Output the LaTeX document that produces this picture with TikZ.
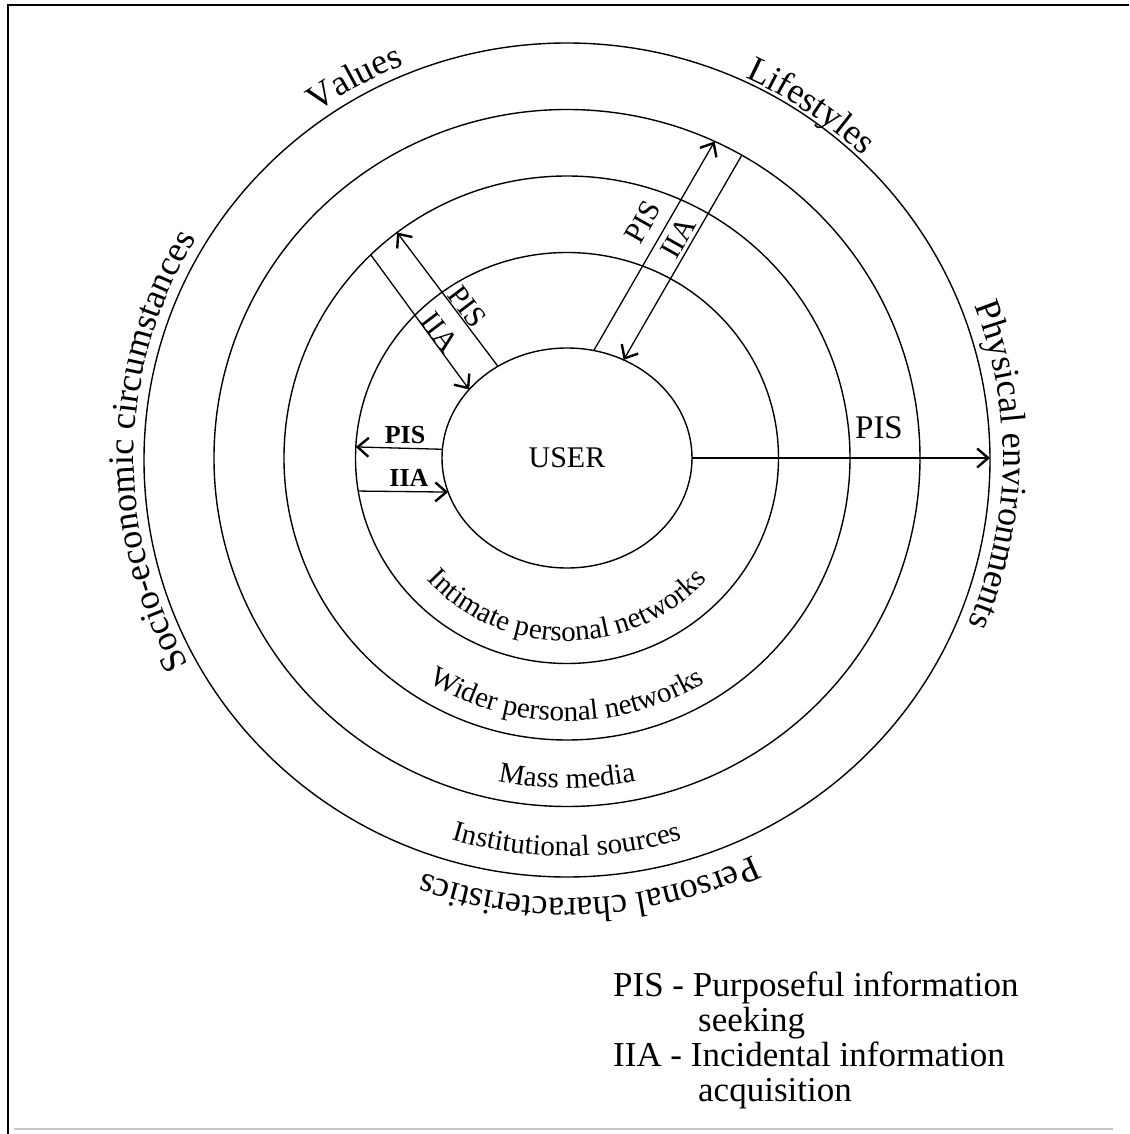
\documentclass[tikz,border=0pt]{standalone}
\usepackage{fontspec}
\setmainfont{Liberation Serif}
\usetikzlibrary{shapes.geometric,arrows.meta,decorations.text}
\newcommand\ringfont{\fontsize{29}{29}\selectfont}
\newcommand\outerfont{\fontsize{36}{36}\selectfont}
\begin{document}
\begin{tikzpicture}[x=1pt,y=1pt,
  ring/.style={draw, ellipse, line width=1.4pt, inner sep=0pt, outer sep=0pt},
  flow/.style={line width=1.3pt, -{Straight Barb[length=11pt,width=19pt,line width=2.4pt]}},
  lab/.style={font=\fontsize{30}{30}\selectfont, inner sep=0pt},
  smalllab/.style={font=\fontsize{26}{26}\selectfont\bfseries, inner sep=0pt},
  biglab/.style={font=\fontsize{33}{33}\selectfont, inner sep=0pt},
  legend/.style={font=\fontsize{35}{35}\selectfont, inner sep=0pt, anchor=base west},
  innertext/.style={decorate, decoration={text along path, text align=center, text={|\ringfont|#1}}},
  outertext/.style={decorate, decoration={text along path, text align=center, text={|\outerfont|#1}}}]
\useasboundingbox (-567,-676) rectangle (562,458);
\fill[white] (-567,-676) rectangle (562,458);
% frame
\draw[line width=2pt] (-559,-676) -- (-559,453) -- (562,453);
\draw[gray!45, line width=1.5pt] (-553,-671) -- (546,-671);
% rings
\node[ring, minimum width=846pt, minimum height=834pt] (r5) at (0,-2) {};
\node[ring, minimum width=706pt, minimum height=697pt] (r4) at (0,0) {};
\node[ring, minimum width=566pt, minimum height=564pt] (r3) at (0,0) {};
\node[ring, minimum width=423pt, minimum height=411pt] (r2) at (0,0) {};
\node[ring, minimum width=250pt, minimum height=220pt, font=\fontsize{30}{30}\selectfont] (user) at (0,0) {USER};
% arrows
\draw[flow] (user.0) -- (r5.0 |- user.0);
\draw[flow] (user.176.33) -- (r2.177.83);
\draw[flow] (r2.189.26) -- (user.196);
\draw[flow] (user.127.2) -- (r3.127.2);
\draw[flow] (r3.134.9) -- (user.145.6);
\draw[flow] (user.76.84) -- (r4.65.67);
\draw[flow] (r4.60.6) -- (user.60.6);
% arrow labels
\node[lab, rotate=60.6] (pisTR) at (76,236) {PIS};
\node[lab, rotate=60.6] (iiaTR) at (111,220) {IIA};
\node[lab, rotate=-52.8] (pisTL) at (-100,151) {PIS};
\node[lab, rotate=-52.8] (iiaTL) at (-127,126) {IIA};
\node[smalllab] (pisL) at (-162,23) {PIS};
\node[smalllab] (iiaL) at (-158,-20) {IIA};
\node[biglab] (pisR) at (312,30) {PIS};
% ring texts (inside, reading left to right along the bottom)
\path[innertext={Intimate personal networks}] (-170:188 and 183) arc[start angle=-170, end angle=-10, x radius=188, y radius=183];
\path[innertext={Wider personal networks}] (-170:266 and 263) arc[start angle=-170, end angle=-10, x radius=266, y radius=263];
\path[innertext={Mass media}] (-150:334 and 330) arc[start angle=-150, end angle=-30, x radius=334, y radius=330];
\path[innertext={Institutional sources}] (-150:404 and 398) arc[start angle=-150, end angle=-30, x radius=404, y radius=398];
% outer texts (clockwise)
\path[outertext={Values}] (169:433 and 424) arc[start angle=169, end angle=69, x radius=433, y radius=424];
\path[outertext={Lifestyles}] (105:428 and 418) arc[start angle=105, end angle=6, x radius=428, y radius=418];
\path[outertext={Physical environments}] (79:436 and 424) arc[start angle=79, end angle=-81, x radius=436, y radius=424];
\path[outertext={Personal characteristics}] (-17:436 and 440) arc[start angle=-17, end angle=-157, x radius=436, y radius=440];
\path[outertext={Socio-economic circumstances}] (259:433 and 424) arc[start angle=259, end angle=99, x radius=433, y radius=424];
% legend
\node[legend] (leg1) at (46,-538) {PIS - Purposeful information};
\node[legend] (leg2) at (131,-573) {seeking};
\node[legend] (leg3) at (46,-608) {IIA - Incidental information};
\node[legend] (leg4) at (131,-643) {acquisition};
\end{tikzpicture}
\end{document}
